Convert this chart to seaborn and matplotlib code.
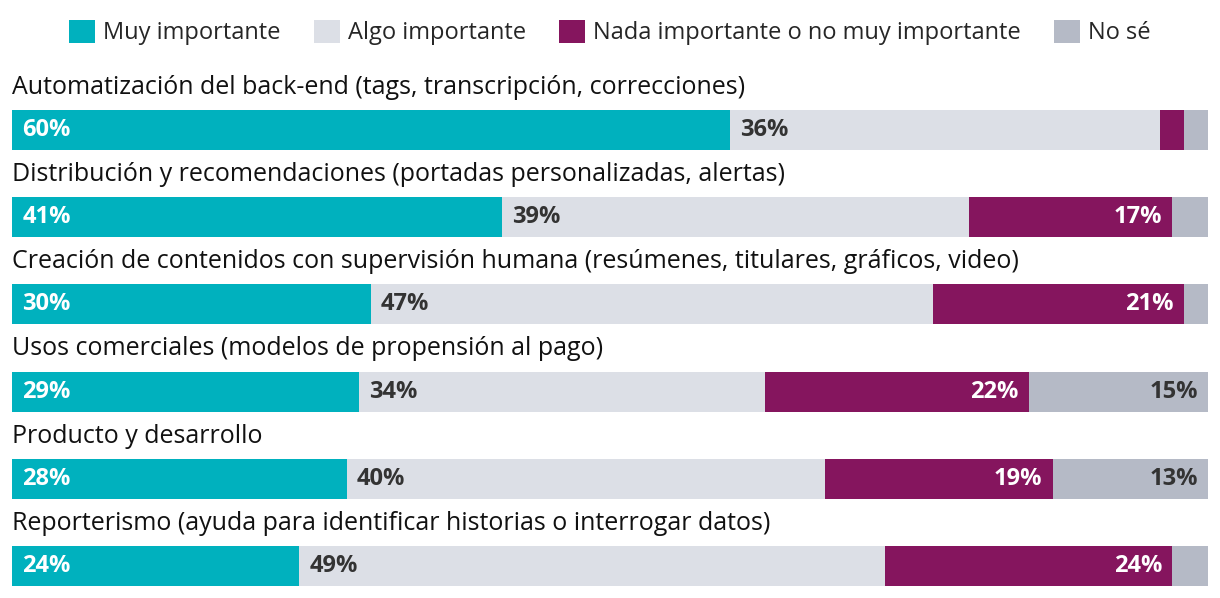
import numpy as np
import pandas as pd
import seaborn as sns
import matplotlib.pyplot as plt
from matplotlib.patches import Patch

# data
categorias = [
    "Automatización del back-end (tags, transcripción, correcciones)",
    "Distribución y recomendaciones (portadas personalizadas, alertas)",
    "Creación de contenidos con supervisión humana (resúmenes, titulares, gráficos, video)",
    "Usos comerciales (modelos de propensión al pago)",
    "Producto y desarrollo",
    "Reporterismo (ayuda para identificar historias o interrogar datos)",
]
series = ["Muy importante", "Algo importante",
          "Nada importante o no muy importante", "No sé"]
muy_importante = [60, 41, 30, 29, 28, 24]
algo_importante = [36, 39, 47, 34, 40, 49]
nada_importante = [2, 17, 21, 22, 19, 24]
no_se = [2, 3, 2, 15, 13, 3]

colores = ["#00B1BE", "#DCDFE6", "#85155E", "#B5BAC6"]
label_colors = ["white", "#333333", "white", "#333333"]

sns.set_theme(style="white")
plt.rcParams["font.family"] = ["Open Sans", "DejaVu Sans"]

df = pd.DataFrame({
    "categoria": categorias,
    series[0]: muy_importante,
    series[1]: algo_importante,
    series[2]: nada_importante,
    series[3]: no_se,
})
cum = df[series].cumsum(axis=1)

fig = plt.figure(figsize=(12.2, 5.98), dpi=100)
ax = fig.add_axes([12 / 1220, 0, 1196 / 1220, 1])

# stacked bars: draw cumulative totals from the back to the front
for s, c in reversed(list(zip(series, colores))):
    sns.barplot(data=cum.assign(categoria=df["categoria"]), x=s, y="categoria",
                color=c, width=0.46, saturation=1, orient="h", linewidth=0,
                ax=ax)

ax.set_xlim(0, cum[series[-1]].max())
ax.set_ylim(5 + 32 / 87.2, -130 / 87.2)
ax.set_axis_off()

pad = 0.85
for i, cat in enumerate(categorias):
    ax.text(0, i - 0.49, cat, ha="left", va="center", fontsize=18, color="#111111")
    left = 0
    for j, s in enumerate(series):
        v = df.loc[i, s]
        right = left + v
        if v >= 10:
            if j in (0, 1):
                ax.text(left + pad, i, f"{v}%", ha="left", va="center",
                        fontsize=17, fontweight="bold", color=label_colors[j])
            else:
                ax.text(right - pad, i, f"{v}%", ha="right", va="center",
                        fontsize=17, fontweight="bold", color=label_colors[j])
        left = right

handles = [Patch(facecolor=c, edgecolor="none") for c in colores]
fig.legend(handles, series, loc="upper center", bbox_to_anchor=(0.5, 1.0),
           ncol=4, frameon=False, fontsize=17, handlelength=1.1,
           handleheight=1.1, handletextpad=0.35, columnspacing=1.4,
           borderaxespad=0.45)

fig.savefig("out.png", dpi=100)
